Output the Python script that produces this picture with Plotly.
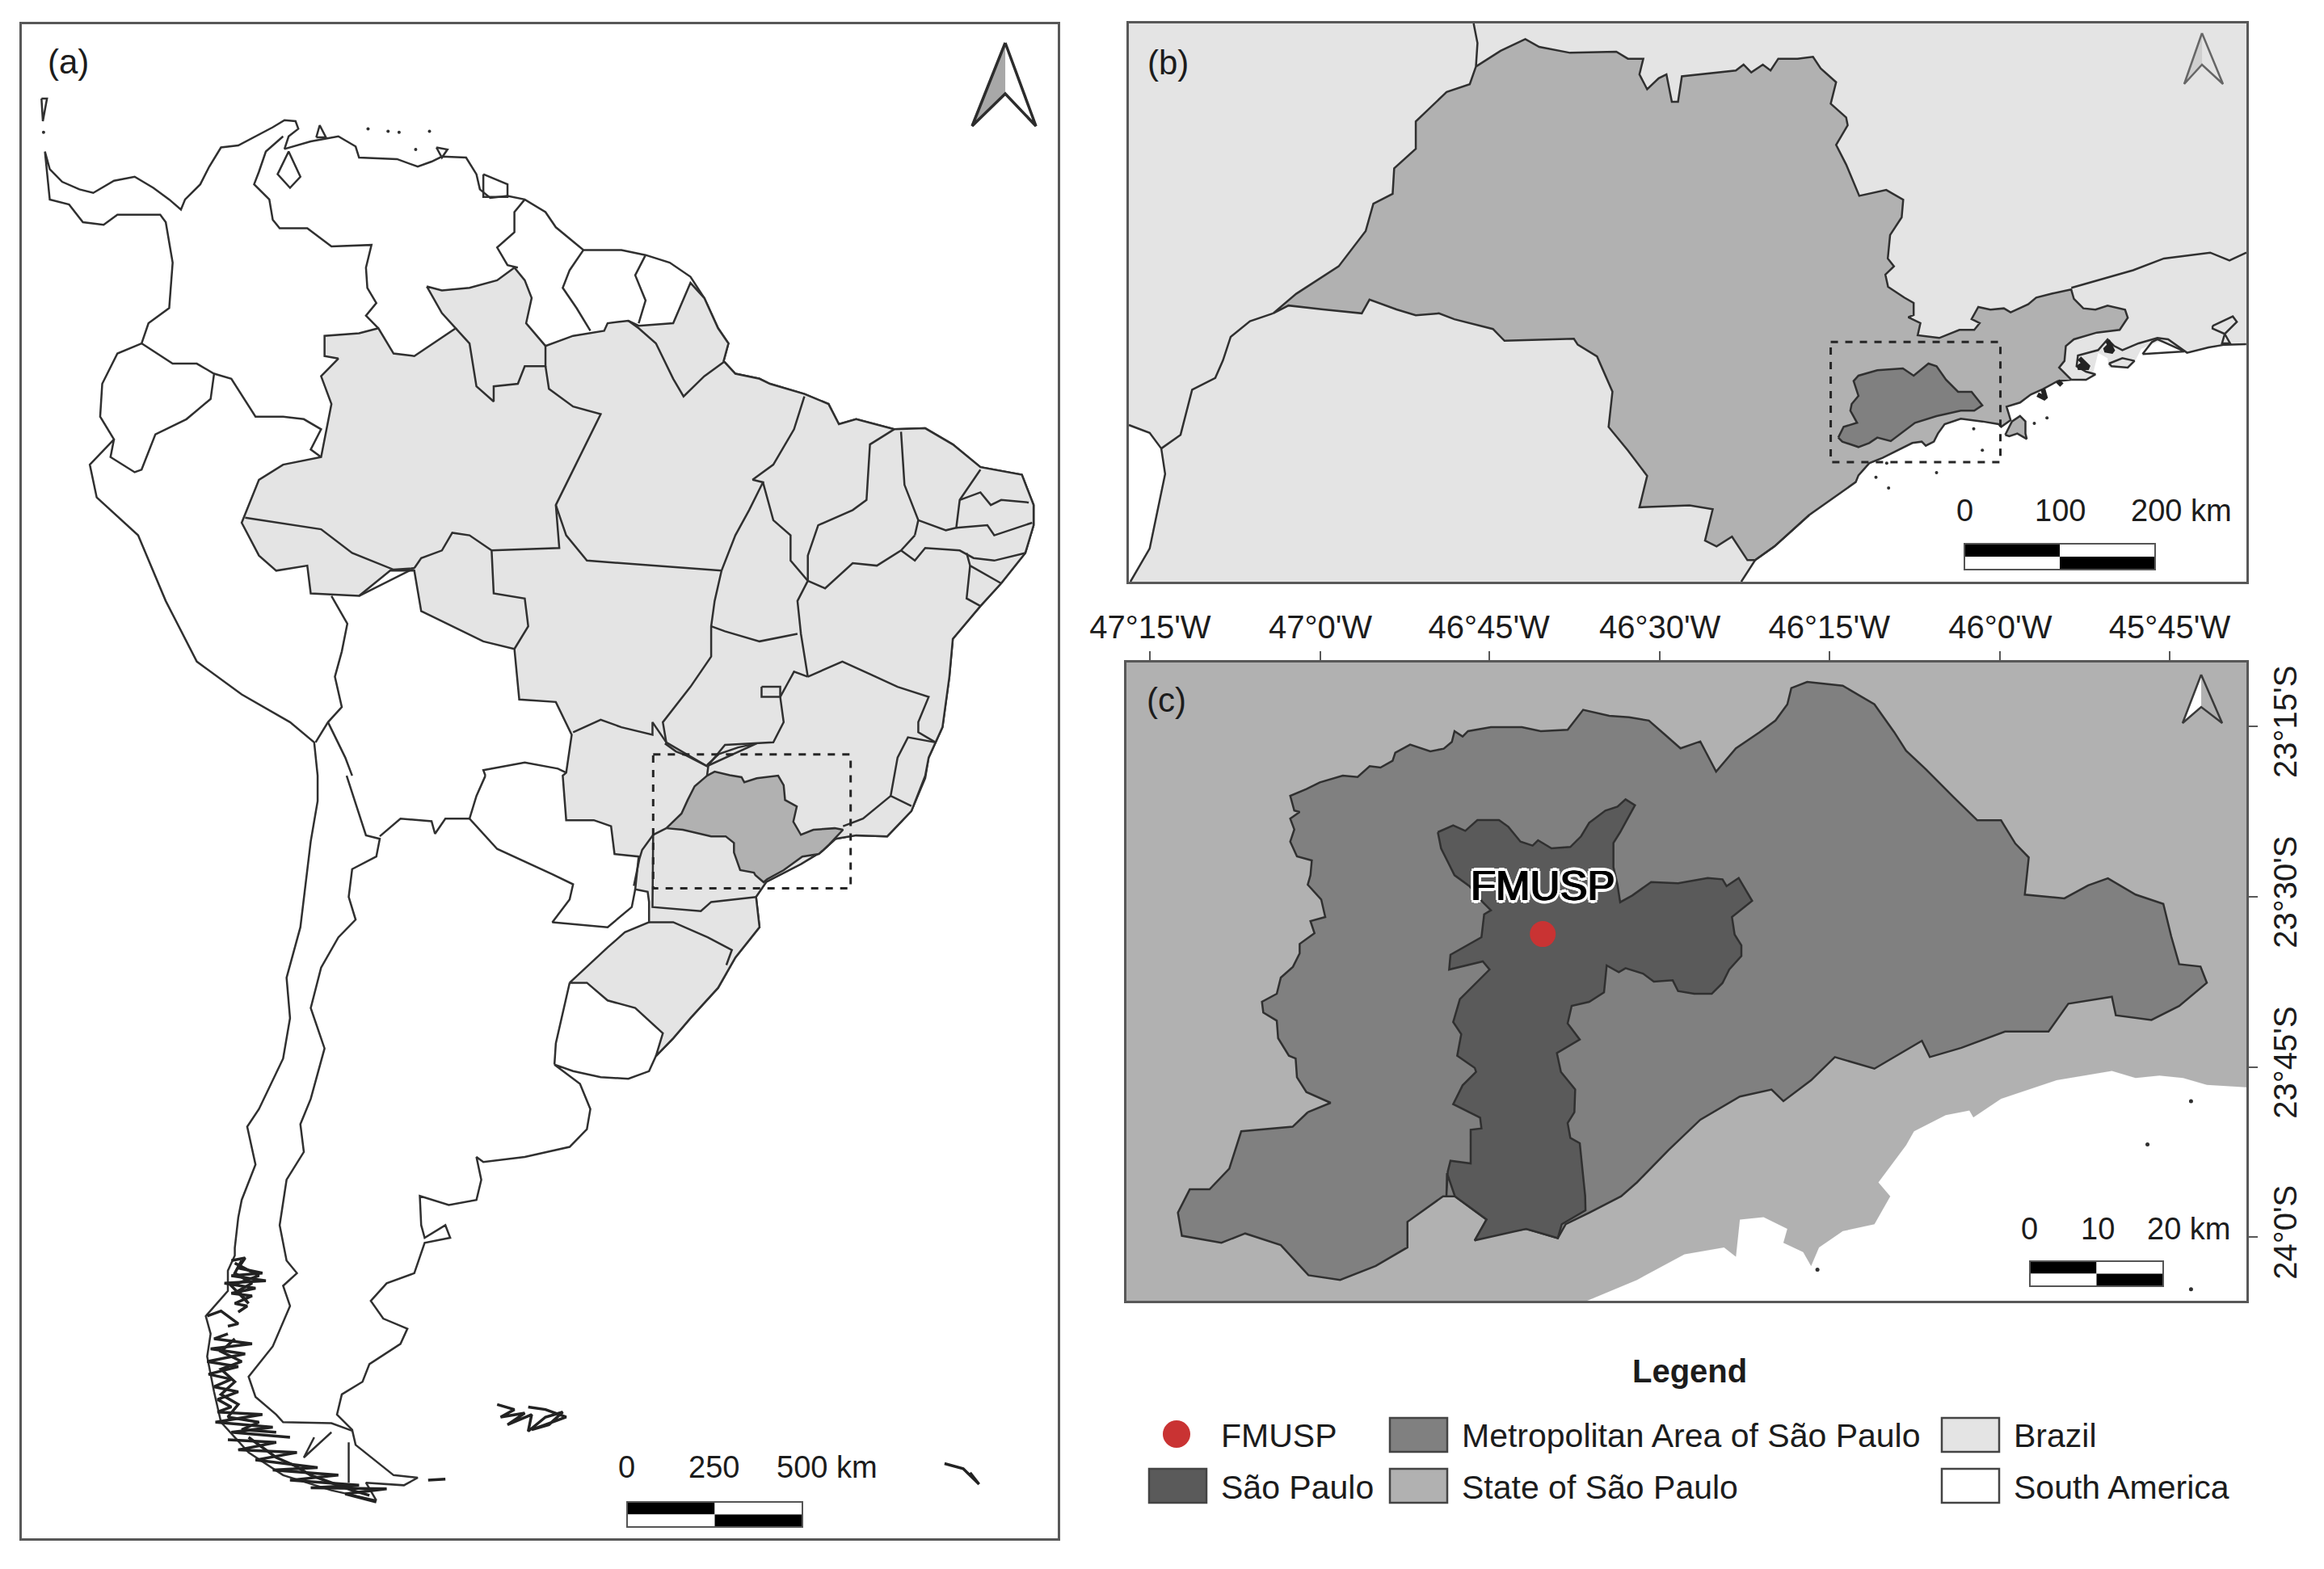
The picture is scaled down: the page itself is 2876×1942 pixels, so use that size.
import plotly.graph_objects as go

FONT = "Liberation Sans"
W, H = 2876, 1942

# ---------------- colours
BRAZIL = "#e4e4e4"
STATE = "#b1b1b1"
METRO = "#808080"
CITY = "#5a5a5a"
RED = "#c93333"
EDGE = "#303030"
FRAME = "#585858"

# ---------------- panel (a) : map units, upper sheet
a_coast_north = [(65,300),(72,335),(90,360),(115,375),(135,382),(165,358),(195,350),(222,372),(245,395),(262,415),(268,395),(290,365),(303,330),(320,292),(345,288),(370,270),(395,252),(412,238),(428,240),(432,255),(418,270),(412,295),(450,280),(490,270),(515,290),(520,312),(575,315),(605,330),(625,320),(640,310),(675,312),(690,345),(695,375),(710,392),(735,388),(760,395),(790,420),(805,450),(845,495),(900,495),(935,505),(970,520),(1000,548),(1020,590),(1040,650),(1055,680),(1048,715),(1065,740),(1100,750),(1115,760),(1165,780),(1200,800),(1215,840),(1240,830),(1295,850),(1340,848),(1380,880),(1420,925),(1480,940),(1497,1000),(1497,1040),(1485,1095),(1450,1155),(1420,1200),(1380,1265),(1375,1340),(1365,1440),(1345,1500),(1340,1536)]
a_coast_south_lower = [(1340,5),(1320,70),(1285,120),(1240,118),(1210,125),(1190,150),(1160,175),(1110,210),(1095,240),(1100,300),(1065,360),(1040,420),(1000,480),(975,520),(950,555),(940,585),(910,600),(870,597),(830,585),(803,572),(840,610),(855,660),(850,700),(825,735),(760,755),(700,765),(690,755),(697,800),(690,840),(650,850),(608,832),(610,890),(615,915),(645,890),(652,915),(615,925),(600,985),(560,1005),(537,1040),(555,1075),(590,1095),(580,1125),(535,1165),(525,1200),(495,1225),(488,1265),(510,1295),(515,1325),(570,1385),(605,1390),(585,1405),(530,1400),(545,1435),(480,1415),(410,1385),(360,1340),(320,1280),(310,1220),(300,1150),(305,1105),(298,1070),(330,1020),(330,980),(340,950),(340,935),(345,875),(350,840),(370,770),(358,695),(375,660),(410,560),(420,480),(415,400),(435,300),(450,130),(460,50),(460,0)]
a_coast_west = [(455,1470),(420,1430),(350,1375),(285,1310),(240,1190),(200,1060),(140,985),(130,920),(165,870),(145,825),(148,760),(170,700),(205,680),(215,640),(245,610),(250,520),(240,440),(232,425),(170,425),(150,445),(120,440),(100,405),(72,395),(65,300)]
a_maracaibo = [(418,300),(402,345),(420,372),(435,350),(418,300)]

a_brazil_north = [(618,567),(640,575),(680,570),(720,555),(745,530),(760,555),(770,590),(762,640),(790,685),(830,665),(875,655),(880,640),(910,635),(925,645),(975,640),(1000,560),(1020,590),(1040,650),(1055,680),(1048,715),(1065,740),(1100,750),(1115,760),(1165,780),(1200,800),(1215,840),(1240,830),(1295,850),(1340,848),(1380,880),(1420,925),(1480,940),(1497,1000),(1497,1040),(1485,1095),(1450,1155),(1420,1200),(1380,1265),(1375,1340),(1365,1440),(1345,1500),(1340,1536)]
a_brazil_south_lower = [(1320,70),(1285,120),(1240,118),(1210,125),(1190,150),(1160,175),(1110,210),(1095,240),(1100,300),(1065,360),(1040,420),(1000,480),(975,520),(950,555),(960,510),(920,460),(880,445),(850,410),(825,410),(880,340),(905,310),(940,290),(940,250),(938,230),(920,225),(925,160),(890,155),(885,100),(860,88),(820,88),(815,0)]
a_brazil_west = [(820,1530),(828,1455),(805,1390),(752,1385),(745,1285),(700,1270),(655,1240),(610,1210),(600,1130),(565,1130),(520,1180),(450,1175),(445,1120),(400,1130),(375,1100),(350,1035),(375,950),(410,920),(465,905),(480,800),(465,745),(490,710),(470,705),(470,665),(520,660),(548,650),(570,700),(600,705),(660,650),(640,620),(618,567)]
a_sao_paulo = [(1024,1536),(1035,1528),(1057,1535),(1074,1539),(1078,1549),(1096,1541),(1127,1536),(1135,1555),(1137,1584),(1154,1597),(1149,1627),(1160,1653),(1178,1643),(1209,1640),(1221,1643),(1201,1672),(1186,1691),(1162,1696),(1135,1723),(1111,1741),(1106,1747),(1094,1733),(1092,1728),(1072,1723),(1063,1688),(1063,1669),(1051,1656),(1030,1656),(989,1643),(965,1640),(987,1611),(996,1584),(1006,1557),(1024,1536)]

a_states = [
    [(660,650),(680,680),(690,765),(715,795),(715,765),(750,760),(760,725),(790,725),(790,685)],
    [(790,725),(795,770),(830,805),(870,820),(805,1000),(810,1085),(712,1090),(680,1060),(655,1055),(640,1090),(610,1105),(600,1125)],
    [(355,1025),(465,1048),(510,1095),(570,1128),(600,1125),(520,1180)],
    [(712,1090),(715,1175),(760,1185),(765,1240),(745,1285)],
    [(805,1000),(820,1060),(850,1110),(1045,1130)],
    [(910,635),(925,650),(950,680),(975,750),(990,785),(1020,745),(1050,715)],
    [(1165,785),(1150,850),(1120,920),(1090,950),(1105,955),(1085,1010),(1065,1060),(1045,1130),(1035,1190),(1030,1240),(1030,1300),(1000,1360),(960,1430),(965,1470),(1024,1517)],
    [(965,1470),(945,1430),(945,1455),(900,1440),(870,1425),(830,1450)],
    [(1030,1240),(1050,1250),(1100,1270),(1155,1255)],
    [(1105,955),(1120,1030),(1145,1060),(1145,1110),(1170,1150),(1155,1190),(1160,1255),(1170,1340)],
    [(1170,1340),(1150,1330),(1140,1355),(1130,1380),(1135,1430),(1120,1470),(1050,1475),(1026,1515),(1024,1536)],
    [(1295,850),(1260,880),(1255,990),(1235,1010),(1185,1040),(1170,1100),(1170,1150)],
    [(1170,1150),(1195,1165),(1235,1115),(1270,1120),(1305,1090),(1325,1060)],
    [(1305,855),(1310,960),(1330,1030),(1325,1060)],
    [(1420,930),(1390,990),(1385,1045),(1370,1050),(1330,1030)],
    [(1390,990),(1420,975),(1435,1000),(1450,990),(1490,995)],
    [(1385,1045),(1430,1040),(1440,1060),(1495,1035)],
    [(1305,1090),(1325,1110),(1340,1085),(1390,1090),(1410,1105),(1440,1110),(1485,1095)],
    [(1400,1095),(1405,1120),(1450,1155)],
    [(1405,1120),(1400,1185),(1420,1200)],
    [(1170,1340),(1220,1310),(1260,1335),(1300,1360),(1345,1380),(1330,1430),(1330,1450),(1355,1470)],
    [(1355,1470),(1315,1460),(1300,1500),(1295,1536),(1290,1576),(1320,1596)],
    [(1290,1576),(1250,1621),(1221,1636)],
    [(1024,1515),(1041,1493),(1069,1480),(1096,1472),(1024,1517),(994,1496),(979,1488),(963,1472)],
    [(965,1640),(946,1653),(930,1683),(926,1701),(918,1754)],
    [(946,1653),(945,1796),(1015,1804),(1030,1786),(1095,1776)],
    [(940,1826),(975,1826),(1025,1856),(1060,1881),(1052,1911)],
    [(1103,1360),(1130,1360),(1130,1380),(1103,1380),(1103,1360)],
]
a_borders_upper = [
    [(410,270),(385,300),(375,340),(368,365),(390,395),(395,435),(405,452),(445,452),(480,488),(538,485),(530,530),(532,570),(545,600),(530,625),(548,650)],
    [(760,395),(745,420),(745,460),(720,490),(735,525),(750,530)],
    [(845,495),(825,535),(815,570),(835,610),(855,655)],
    [(935,505),(920,545),(935,595),(925,640)],
    [(205,680),(250,720),(285,720),(310,740),(305,790),(270,830),(225,860),(205,930),(195,935),(160,905),(165,870)],
    [(310,740),(335,750),(370,825),(410,825),(440,830),(465,850),(450,890),(465,905)],
    [(480,1180),(503,1235),(495,1290),(485,1340),(495,1400),(475,1430),(457,1470)],
    [(475,1430),(500,1500),(510,1536)],
    [(703,1536),(700,1525),(760,1510),(808,1522),(820,1530)],
]
a_borders_lower = [
    [(502,0),(530,118),(550,125),(545,160),(510,185),(505,240),(515,285),(490,320),(465,380),(450,460),(470,540),(450,640),(435,690),(440,745),(415,800),(405,890),(415,960),(430,985),(410,1010),(420,1050),(395,1130),(360,1190),(370,1230),(400,1265),(410,1280),(480,1282),(510,1297)],
    [(550,120),(580,85),(625,90),(630,115),(645,85),(680,85),(690,40),(703,0)],
    [(680,85),(720,145),(800,195),(830,215),(825,245),(800,290),(880,300),(915,260),(920,225)],
    [(825,410),(815,470),(805,530),(803,572)],
    [(505,1320),(505,1400)],
    [(455,1310),(440,1350),(480,1300)],
]
a_scribbles_lower = [
    [(335,960),(355,955),(345,975),(380,985),(335,990),(385,1000),(325,1005),(370,1015),(335,1025),(365,1030),(340,1045),(358,1050),(345,1062)],
    [(350,960),(340,985),(365,1005),(345,1020),(360,1045),(335,1010),(375,990),(340,965)],
    [(300,1070),(320,1060),(345,1085),(330,1090)],
    [(330,1105),(310,1115),(365,1125),(305,1135),(355,1145),(300,1160),(345,1170),(302,1185),(335,1195),(310,1210),(345,1220),(315,1235),(335,1250),(315,1260),(380,1265),(312,1280),(395,1290),(335,1300),(420,1310)],
    [(340,1115),(320,1140),(350,1160),(320,1175),(340,1200),(320,1225),(345,1245),(330,1270),(375,1280),(350,1295),(400,1300)],
    [(330,1315),(400,1320),(345,1335),(430,1340),(370,1355),(460,1370),(395,1375),(490,1385),(420,1395),(520,1405),(450,1410),(560,1412),(500,1422),(545,1438)],
    [(360,1310),(385,1335),(400,1350),(425,1365),(450,1385),(480,1400),(510,1415),(535,1425)],
    [(720,1245),(745,1255),(725,1270),(760,1262),(735,1285),(770,1265),(765,1298),(790,1270),(815,1260),(795,1285),(770,1295),(820,1270),(790,1255),(765,1250)],
    [(620,1395),(645,1393)],
    [(1368,1362),(1395,1372),(1418,1403),(1405,1380)],
]
a_islands = [
    [(60,195),(68,195),(62,240),(60,195)],
    [(458,272),(463,248),(472,272),(458,272)],
    [(632,292),(648,296),(640,312),(632,292)],
    [(700,345),(735,365),(735,390),(700,390),(700,345)],
]
a_dots = [(63,262),(533,255),(562,260),(578,262),(622,260),(602,296)]
a_dashed_box = [946, 1232, 1494, 1759]

# ---------------- panel (b) : map units, plus a close-up sheet of the east coast
b_state_inland = [(468,170),(500,130),(532,100),(550,120),(590,135),(650,132),(665,150),(685,150),(680,190),(690,228),(705,200),(715,190),(722,260),(730,260),(735,195),(780,185),(805,180),(815,165),(825,185),(840,165),(850,180),(860,150),(885,150),(905,145),(915,175),(935,210),(928,265),(948,300),(950,320),(935,370),(948,420),(965,500),(1000,485),(1022,510),(1020,555),(1005,600),(1002,660),(1010,680),(1000,701)]
b_state_east_sheet = [(160,0),(170,45),(230,85),(265,105),(265,150),(245,158),(290,180),(280,225),(360,235),(435,205),(490,205),(510,180),(480,165),(505,120),(550,130),(600,125),(625,140),(690,110),(720,85),(780,70),(850,55),(860,90),(895,125),(940,130),(985,115),(1050,130),(1060,160),(1030,205),(945,215),(860,240),(830,265),(825,320),(805,345),(850,390),(800,395),(745,425),(700,445),(660,475),(610,490),(625,540),(590,565),(580,555),(520,545),(440,535),(380,555),(355,590),(340,620),(310,635),(295,620),(260,625),(150,680),(100,700),(60,745),(50,770),(0,805)]
b_state_south = [(900,1315),(855,1395),(830,1430),(820,1430),(800,1370),(780,1395),(765,1380),(775,1300),(745,1290),(680,1295),(690,1215),(665,1150),(640,1090),(645,1000),(625,910),(600,880),(595,865),(505,870),(490,840),(440,815),(420,800),(390,805),(365,790),(330,765),(320,800),(270,790),(225,780),(205,800),(235,750),(290,680),(325,590),(335,520),(360,495),(362,430),(390,380),(390,310),(430,235),(460,215),(468,170)]
b_coast_sheet = [(1500,258),(1420,260),(1360,270),(1280,290),(1210,255),(1170,250),(1110,275),(1085,325),(1060,348),(990,345),(985,310),(950,290),(930,370),(905,395),(850,390),(800,395),(745,425),(700,445),(660,475),(610,490),(625,540),(590,565),(580,555),(520,545),(440,535),(380,555),(355,590),(340,620),(310,635),(295,620),(260,625),(150,680),(100,700),(60,745),(50,770),(0,805)]
b_brazil_start = [(18,60),(1467,60)]
b_brazil_end = [(900,1315),(855,1395),(830,1430),(812,1485),(20,1485),(45,1400),(65,1210),(60,1145),(45,1105),(18,1085),(18,60)]
b_metro_sheet = [(-15,605),(5,565),(55,550),(30,505),(35,480),(60,450),(42,395),(60,375),(130,355),(190,350),(225,348),(265,375),(320,330),(350,340),(385,390),(430,435),(480,435),(520,485),(490,505),(440,505),(350,525),(270,550),(215,590),(180,618),(130,605),(100,625),(60,640),(30,630),(0,620),(-15,605)]
b_island_sheet = [(605,595),(630,545),(660,525),(680,545),(680,590),(685,610),(650,590),(620,600),(605,595)]
b_lines = [
    [(18,1085),(45,1105),(60,1145),(65,1210),(45,1400),(20,1485)],
    [(465,60),(470,110),(468,170)],
    [(205,800),(175,820),(150,860),(140,920),(130,965),(100,995),(85,1110),(60,1145)],
    [(1240,735),(1275,715),(1320,690),(1360,660),(1420,645),(1445,665),(1467,645)],
    [(900,1315),(855,1395),(830,1430),(812,1485)],
]
b_lines_sheet = [
    [(850,390),(905,390),(940,370),(905,360),(870,340),(875,300),(950,280),(985,240),(1010,265),(1040,280),(1100,255),(1170,235),(1210,240),(1280,290),(1360,270),(1420,260),(1500,258)],
    [(990,330),(1040,310),(1085,320),(1060,345),(1000,340),(990,330)],
    [(1115,295),(1150,250),(1170,240),(1270,285),(1115,295)],
    [(1375,190),(1450,155),(1465,175),(1420,220),(1440,255),(1410,255),(1420,220),(1375,200),(1375,190)],
]
b_scribbles_sheet = [
    [(880,310),(915,345),(875,345),(905,325)],
    [(985,245),(1005,285),(975,280),(1000,255)],
    [(745,425),(755,460),(725,445)],
    [(800,395),(815,410)],
]
b_dots_sheet = [(488,572),(520,652),(713,552),(760,532),(350,735),(125,752),(172,792),(165,700)]
b_dashed_box = [928, 1148, 873, 1180]

# ---------------- panel (c) : map units, plus two close-up sheets
c_tick_x = [85, 300, 513, 729, 943, 1159, 1373]
c_tick_x_text = ["47°15'W", "47°0'W", "46°45'W", "46°30'W", "46°15'W", "46°0'W", "45°45'W"]
c_tick_y = [278, 645, 1012, 1378]
c_tick_y_text = ["23°15'S", "23°30'S", "23°45'S", "24°0'S"]
c_state = [(55,140),(1470,140),(1470,1055),(1420,1050),(1390,1035),(1360,1030),(1330,1035),(1300,1020),(1265,1030),(1230,1040),(1195,1060),(1160,1080),(1125,1120),(1120,1105),(1090,1115),(1050,1150),(1040,1180),(1025,1215),(1005,1260),(1020,1290),(1000,1350),(960,1365),(930,1400),(920,1440),(910,1410),(885,1390),(890,1360),(860,1335),(830,1340),(825,1420),(810,1400),(760,1415),(700,1470),(637,1515),(55,1515),(55,140)]
c_metro_west_sheet = [(535,1490),(620,1455),(530,1415),(495,1360),(490,1290),(465,1280),(425,1215),(420,1150),(370,1120),(365,1080),(420,1050),(435,990),(480,950),(505,900),(505,865),(560,825),(545,780),(600,765),(585,700),(535,645),(545,610),(550,555),(495,540),(470,485),(485,440),(470,400),(505,375),(485,370),(470,315),(530,290),(580,265),(665,240),(720,245),(765,205),(805,210),(850,185),(860,155),(915,125),(990,150),(1040,140),(1070,115),(1080,75),(1110,95),(1130,75),(1215,60),(1330,60),(1400,75),(1500,70)]
c_metro_rest = [(632,242),(665,255),(690,258),(715,265),(735,295),(755,325),(780,310),(800,375),(825,325),(855,290),(875,265),(890,230),(895,195),(915,182),(960,190),(985,215),(1000,230),(1025,290),(1040,330),(1065,370),(1085,405),(1100,430),(1130,480),(1160,480),(1178,530),(1195,560),(1190,640),(1240,648),(1270,620),(1295,605),(1330,640),(1365,660),(1375,730),(1385,790),(1412,795),(1420,830),(1385,880),(1350,910),(1305,900),(1300,860),(1245,875),(1220,935),(1165,935),(1110,970),(1070,990),(1060,955),(1000,1015),(950,990),(920,1040),(885,1085),(870,1060),(830,1075),(780,1125),(740,1190),(700,1260),(680,1290),(640,1325),(610,1350),(600,1380),(560,1360),(505,1375),(495,1385),(510,1340),(470,1290),(455,1290),(410,1345),(410,1400),(370,1440),(325,1470),(285,1460),(250,1395),(205,1370),(175,1390),(125,1375),(120,1325),(135,1275),(160,1275),(185,1230),(200,1150),(265,1140),(284,1109)]
c_city_sheet = [(238,150),(295,125),(340,145),(385,105),(465,105),(500,130),(545,185),(590,200),(610,180),(660,210),(730,205),(770,165),(800,115),(860,70),(905,55),(935,28),(970,50),(945,95),(915,150),(890,190),(890,280),(905,345),(915,410),(960,385),(1030,335),(1130,340),(1240,320),(1295,325),(1310,350),(1355,320),(1405,405),(1330,465),(1340,530),(1365,570),(1365,610),(1320,660),(1295,710),(1255,750),(1190,750),(1130,740),(1110,700),(1040,705),(1000,675),(935,655),(910,670),(865,645),(855,745),(800,780),(735,795),(720,860),(765,920),(680,970),(695,1040),(748,1105),(745,1190),(720,1230),(730,1285),(765,1305),(775,1400),(785,1500)]
c_city_south = [(635,1320),(605,1350),(600,1380),(560,1360),(495,1385),(510,1340),(470,1290),(460,1240)]
c_city_back_sheet = [(270,1500),(275,1410),(285,1370),(360,1380),(360,1255),(400,1250),(395,1210),(295,1160),(330,1090),(380,1040),(375,1025),(310,980),(325,900),(295,855),(320,770),(430,660),(405,630),(280,660),(285,605),(400,540),(410,455),(435,440),(405,410),(390,390),(355,350),(300,310),(280,270),(250,210),(238,150)]
c_dots = [(1345,1178),(1400,1085),(928,1448),(1400,1490)]
fmusp_x = [581]
fmusp_y = [725]

# ---------------- legend text
legend_title = "Legend"
legend_labels = ["FMUSP", "São Paulo", "Metropolitan Area of São Paulo", "State of São Paulo", "Brazil", "South America"]


def lower(points):
    # the southern half of panel (a) was read on a second sheet
    return [(x, y + 1536) for x, y in points]


def sheet_b(points):
    # close-up sheet of panel (b) back to map units
    return [(943 + 0.3492 * x, 701.3 + 0.6874 * y) for x, y in points]


def sheet_c_left(points):
    return [(102 + 0.3403 * x, 244.4 + 0.5802 * y) for x, y in points]


def sheet_c_mid(points):
    return [(367.4 + 0.3403 * x, 418.5 + 0.5802 * y) for x, y in points]


def xs(points):
    return [p[0] for p in points]


def ys(points):
    return [p[1] for p in points]


fig = go.Figure()


def poly(points, ax, fill=None, width=2.5, color=EDGE):
    fig.add_trace(go.Scatter(
        x=xs(points), y=ys(points), xaxis="x" + ax, yaxis="y" + ax,
        mode="lines", line=dict(color=color, width=width),
        fill="toself" if fill else "none", fillcolor=fill,
        hoverinfo="skip", showlegend=False,
    ))


def dots(points, ax, size=4, color=EDGE):
    fig.add_trace(go.Scatter(
        x=xs(points), y=ys(points), xaxis="x" + ax, yaxis="y" + ax,
        mode="markers", marker=dict(size=size, color=color),
        hoverinfo="skip", showlegend=False,
    ))


def label(x, y, text, size=38, bold=False, anchor="left"):
    fig.add_annotation(
        x=x, y=y, xref="x4", yref="y4", text=f"<b>{text}</b>" if bold else text,
        showarrow=False, xanchor=anchor, yanchor="middle",
        font=dict(family=FONT, size=size, color="#1c1c1c"),
    )


def rect(x0, x1, y0, y1, fill, line=None, width=2, ref="4", dash=None):
    fig.add_shape(
        type="rect", x0=x0, x1=x1, y0=y0, y1=y1, xref="x" + ref, yref="y" + ref,
        fillcolor=fill, line=dict(color=line, width=width if line else 0, dash=dash), layer="above",
    )


def scale_bar(x0, x1, y0, y1):
    xm, ym = (x0 + x1) / 2, (y0 + y1) / 2
    rect(x0, xm, y0, ym, "#000000")
    rect(xm, x1, y0, ym, "#ffffff")
    rect(x0, xm, ym, y1, "#ffffff")
    rect(xm, x1, ym, y1, "#000000")
    rect(x0, x1, y0, y1, "rgba(0,0,0,0)", "#555555", 2)


def north_arrow(tipx, tipy, left, right, foot, notch, shade, stroke, width):
    poly([(tipx, tipy), (left, foot), (tipx, notch), (tipx, tipy)], "4", fill=shade, width=0.1, color=shade)
    poly([(tipx, tipy), (left, foot), (tipx, notch), (right, foot), (tipx, tipy)], "4", width=width, color=stroke)


# panel (a)
poly(a_coast_north + lower(a_coast_south_lower) + a_coast_west, "")
poly(a_maracaibo, "")
poly(a_brazil_north + lower(a_brazil_south_lower) + a_brazil_west, "", fill=BRAZIL)
poly(a_sao_paulo, "", fill=STATE)
for line in a_states + a_borders_upper:
    poly(line, "")
for line in a_borders_lower:
    poly(lower(line), "")
for line in a_scribbles_lower:
    poly(lower(line), "", width=3.5, color="#222222")
for line in a_islands:
    poly(line, "")
dots(a_dots, "")
rect(a_dashed_box[0], a_dashed_box[1], a_dashed_box[2], a_dashed_box[3], "rgba(0,0,0,0)", "#262626", 3, ref="", dash="dash")

# panel (b)
poly(b_brazil_start + sheet_b(b_coast_sheet) + b_brazil_end, "2", fill=BRAZIL, width=0.1, color=BRAZIL)
poly(b_state_inland + sheet_b(b_state_east_sheet) + b_state_south, "2", fill=STATE)
poly(sheet_b(b_island_sheet), "2", fill=STATE)
poly(sheet_b(b_metro_sheet), "2", fill=METRO)
for line in b_lines:
    poly(line, "2")
for line in b_lines_sheet:
    poly(sheet_b(line), "2")
for line in b_scribbles_sheet:
    poly(sheet_b(line), "2", width=6, color="#222222")
dots(sheet_b(b_dots_sheet), "2", size=4)
rect(b_dashed_box[0], b_dashed_box[1], b_dashed_box[2], b_dashed_box[3], "rgba(0,0,0,0)", "#262626", 3, ref="2", dash="dash")

# panel (c)
poly(c_state, "3", fill=STATE, width=0.1, color=STATE)
poly(sheet_c_left(c_metro_west_sheet) + c_metro_rest + sheet_c_left(c_metro_west_sheet[:1]), "3", fill=METRO)
poly(sheet_c_mid(c_city_sheet) + c_city_south + sheet_c_mid(c_city_back_sheet), "3", fill=CITY)
dots(c_dots, "3", size=5)
fig.add_trace(go.Scatter(
    x=fmusp_x, y=fmusp_y, xaxis="x3", yaxis="y3", mode="markers",
    marker=dict(size=32, color=RED), hoverinfo="skip", showlegend=False,
))
fig.add_trace(go.Scatter(
    x=fmusp_x, y=[630], xaxis="x3", yaxis="y3", mode="text", text=legend_labels[:1],
    textposition="middle center",
    textfont=dict(family=FONT, size=51, color="#000000",
                  shadow="1px 0 0 #000, -1px 0 0 #000, 4px 0 0 #fff, -4px 0 0 #fff, 0 4px 0 #fff, 0 -4px 0 #fff, 3px 3px 0 #fff, -3px -3px 0 #fff, 3px -3px 0 #fff, -3px 3px 0 #fff"),
    hoverinfo="skip", showlegend=False,
))

# overlay : page furniture in picture pixels
north_arrow(1244, 53, 1203, 1282, 156, 116, "#a8a8a8", "#2c2c2c", 3.5)
north_arrow(2725, 41, 2703, 2751, 104, 80, "#cfcfcf", "#666666", 2.5)
north_arrow(2724, 835, 2701, 2750, 895, 875, "#ffffff", "#3a3a3a", 2.5)

scale_bar(776, 993, 1859, 1890)
scale_bar(2431, 2667, 673, 705)
scale_bar(2512, 2677, 1561, 1592)

label(84, 76, "(a)", size=42, anchor="center")
label(1445, 77, "(b)", size=42, anchor="center")
label(1443, 866, "(c)", size=42, anchor="center")

label(775, 1816, "0", anchor="center")
label(883, 1816, "250", anchor="center")
label(959, 1816, "500 km")
label(2431, 632, "0", anchor="center")
label(2549, 632, "100", anchor="center")
label(2635, 632, "200 km")
label(2511, 1521, "0", anchor="center")
label(2596, 1521, "10", anchor="center")
label(2655, 1521, "20 km")

# legend
label(2091, 1697, legend_title, size=40, bold=True, anchor="center")
fig.add_trace(go.Scatter(
    x=[1456], y=[1775], xaxis="x4", yaxis="y4", mode="markers",
    marker=dict(size=34, color=RED), hoverinfo="skip", showlegend=False,
))
swatches = [(1422, 1818, CITY), (1720, 1755, METRO), (1720, 1818, STATE), (2403, 1755, BRAZIL), (2403, 1818, "#ffffff")]
for sx, sy, sc in swatches:
    rect(sx, sx + 71, sy, sy + 42, sc, "#444444", 2.5)
label_pos = [(1509, 1777), (1509, 1841), (1807, 1777), (1807, 1841), (2490, 1777), (2490, 1841)]
for (lx, ly), text in zip(label_pos, legend_labels):
    label(lx, ly, text, size=41)


def bare_axis(rng, dom, anchor):
    return dict(range=rng, domain=dom, anchor=anchor, showgrid=False, zeroline=False,
                automargin=False, showticklabels=False, ticks="", showline=True, mirror=True,
                linewidth=3, linecolor=FRAME)


def dom_x(a, b):
    return [a / W, b / W]


def dom_y(top, bottom):
    return [1 - bottom / H, 1 - top / H]


tick_font = dict(family=FONT, size=40, color="#1c1c1c")

fig.update_layout(
    width=W, height=H, autosize=False,
    margin=dict(l=0, r=0, t=0, b=0, pad=0),
    paper_bgcolor="white", plot_bgcolor="rgba(0,0,0,0)",
    showlegend=False,
    xaxis=bare_axis([32, 1532], dom_x(27.4, 1309), "y"),
    yaxis=bare_axis([3046, 48], dom_y(30, 1904), "x"),
    xaxis2=bare_axis([18, 1467], dom_x(1397, 2780), "y2"),
    yaxis2=bare_axis([1485, 60], dom_y(29, 720), "x2"),
    xaxis3=dict(bare_axis([55, 1470], dom_x(1394, 2780), "y3"), side="top", ticks="outside",
                ticklen=11, tickwidth=2, tickcolor=FRAME, showticklabels=True,
                tickvals=c_tick_x, ticktext=c_tick_x_text, tickfont=tick_font),
    yaxis3=dict(bare_axis([1515, 140], dom_y(820, 1610), "x3"), side="right", ticks="outside",
                ticklen=11, tickwidth=2, tickcolor=FRAME, showticklabels=True, tickangle=-90,
                tickvals=c_tick_y, ticktext=c_tick_y_text, tickfont=tick_font),
    xaxis4=dict(range=[0, W], domain=[0, 1], anchor="y4", visible=False, automargin=False),
    yaxis4=dict(range=[H, 0], domain=[0, 1], anchor="x4", visible=False, automargin=False),
)

fig.write_html("out.html", config={"displayModeBar": False}, post_script="document.body.style.margin='0';")
